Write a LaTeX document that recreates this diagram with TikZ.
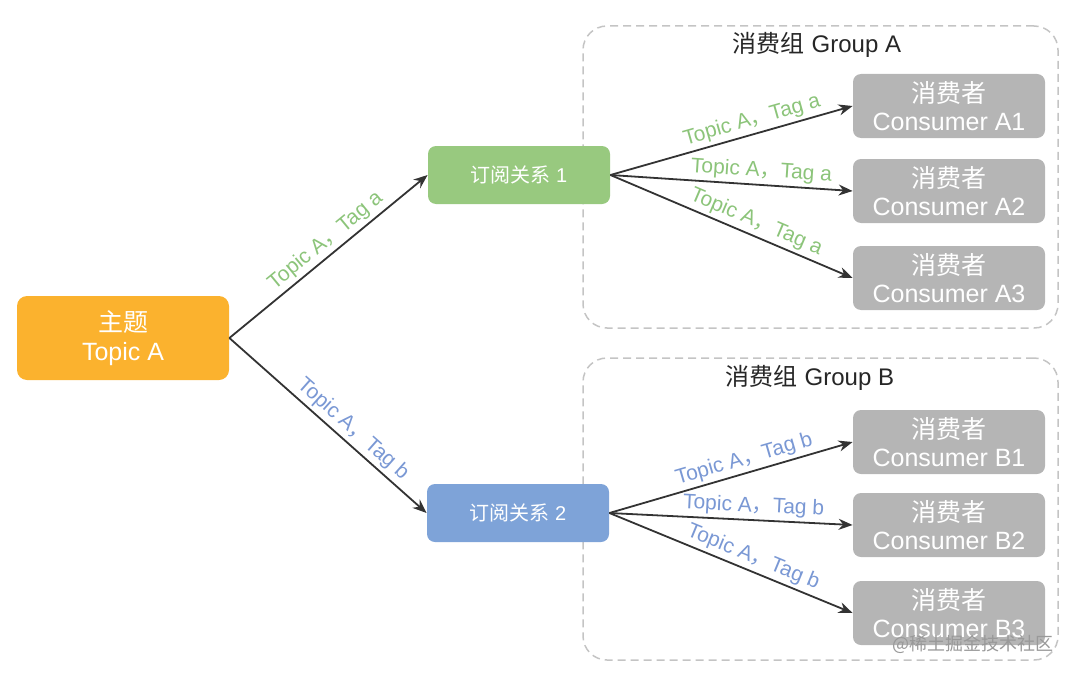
\documentclass[tikz,border=0pt]{standalone}
\usepackage{fontspec}
\setmainfont{Liberation Sans}
\newfontfamily\cjk{Noto Sans CJK SC}
\usetikzlibrary{arrows.meta, positioning}
\definecolor{topicorange}{HTML}{FBB22E}
\definecolor{subgreen}{HTML}{98C97F}
\definecolor{subblue}{HTML}{7EA3D8}
\definecolor{taggreen}{HTML}{8CC47A}
\definecolor{tagblue}{HTML}{7A98D4}
\definecolor{consgray}{HTML}{B5B5B5}
\definecolor{dashgray}{HTML}{C4C4C4}
\definecolor{arrowdark}{HTML}{333333}
\newcommand{\tagtxt}[1]{Topic A{\cjk ，}Tag #1}
\tikzset{%
	topic/.style={rectangle, rounded corners=5pt, fill=topicorange, text=white,%
		minimum width=106pt, minimum height=42pt, align=center, font=\fontsize{12.5}{14.5}\selectfont},
	sub/.style={rectangle, rounded corners=4pt, minimum width=91pt, minimum height=29pt,%
		text=white, font=\fontsize{10}{12}\selectfont},
	consumer/.style={rectangle, rounded corners=4pt, fill=consgray, text=white,%
		minimum width=96pt, minimum height=32pt, inner sep=0pt, align=center,%
		font=\fontsize{12.5}{14}\selectfont},
	group/.style={draw=dashgray, line width=0.75pt, dash pattern=on 4pt off 2.5pt,%
		rounded corners=12pt, minimum width=237.5pt, minimum height=151pt},
	grouptitle/.style={font=\fontsize{12}{14}\selectfont, text=black!85},
	sel/.style={-{Stealth[length=7pt, width=5.5pt]}, line width=0.9pt, draw=arrowdark},
	taga/.style={sloped, above, inner sep=1.5pt, text=taggreen, font=\fontsize{10.5}{12}\selectfont},
	tagb/.style={sloped, above, inner sep=1.5pt, text=tagblue, font=\fontsize{10.5}{12}\selectfont}
}
\begin{document}
\begin{tikzpicture}[x=0.5pt, y=-0.5pt]
	\useasboundingbox (0,0) rectangle (1080,674);
	\node[group] (grpA) at (820.5,177) {};
	\node[group] (grpB) at (820.5,509) {};
	\node[grouptitle] (titleA) at (817,45) {{\cjk 消费组} Group A};
	\node[grouptitle] (titleB) at (810,378) {{\cjk 消费组} Group B};

	\node[topic] (topic) at (123,338) {{\cjk 主题}\\Topic A};
	\node[sub, fill=subgreen] (sub1) at (519,175) {{\cjk 订阅关系} 1};
	\node[sub, fill=subblue] (sub2) at (518,513) {{\cjk 订阅关系} 2};

	\node[consumer] (cA1) at (949,106) {{\cjk 消费者}\\Consumer A1};
	\node[consumer] (cA2) at (949,191) {{\cjk 消费者}\\Consumer A2};
	\node[consumer] (cA3) at (949,278) {{\cjk 消费者}\\Consumer A3};
	\node[consumer] (cB1) at (949,442) {{\cjk 消费者}\\Consumer B1};
	\node[consumer] (cB2) at (949,525) {{\cjk 消费者}\\Consumer B2};
	\node[consumer] (cB3) at (949,613) {{\cjk 消费者}\\Consumer B3};

	\node[text=black!40, font=\cjk\fontsize{9}{11}\selectfont, anchor=east] (mark) at (1061,644) {@稀土掘金技术社区};

	\draw[sel] (topic.east) to node[taga, pos=0.53] {\tagtxt{a}} (sub1.west);
	\draw[sel] (topic.east) to node[tagb, pos=0.58] {\tagtxt{b}} (sub2.west);
	\draw[sel] (sub1.east) to node[taga, pos=0.6] {\tagtxt{a}} (cA1.west);
	\draw[sel] (sub1.east) to node[taga, pos=0.62] {\tagtxt{a}} (cA2.west);
	\draw[sel] (sub1.east) to node[taga, pos=0.58] {\tagtxt{a}} (cA3.west);
	\draw[sel] (sub2.east) to node[tagb, pos=0.57] {\tagtxt{b}} (cB1.west);
	\draw[sel] (sub2.east) to node[tagb, pos=0.59] {\tagtxt{b}} (cB2.west);
	\draw[sel] (sub2.east) to node[tagb, pos=0.57] {\tagtxt{b}} (cB3.west);
\end{tikzpicture}
\end{document}
